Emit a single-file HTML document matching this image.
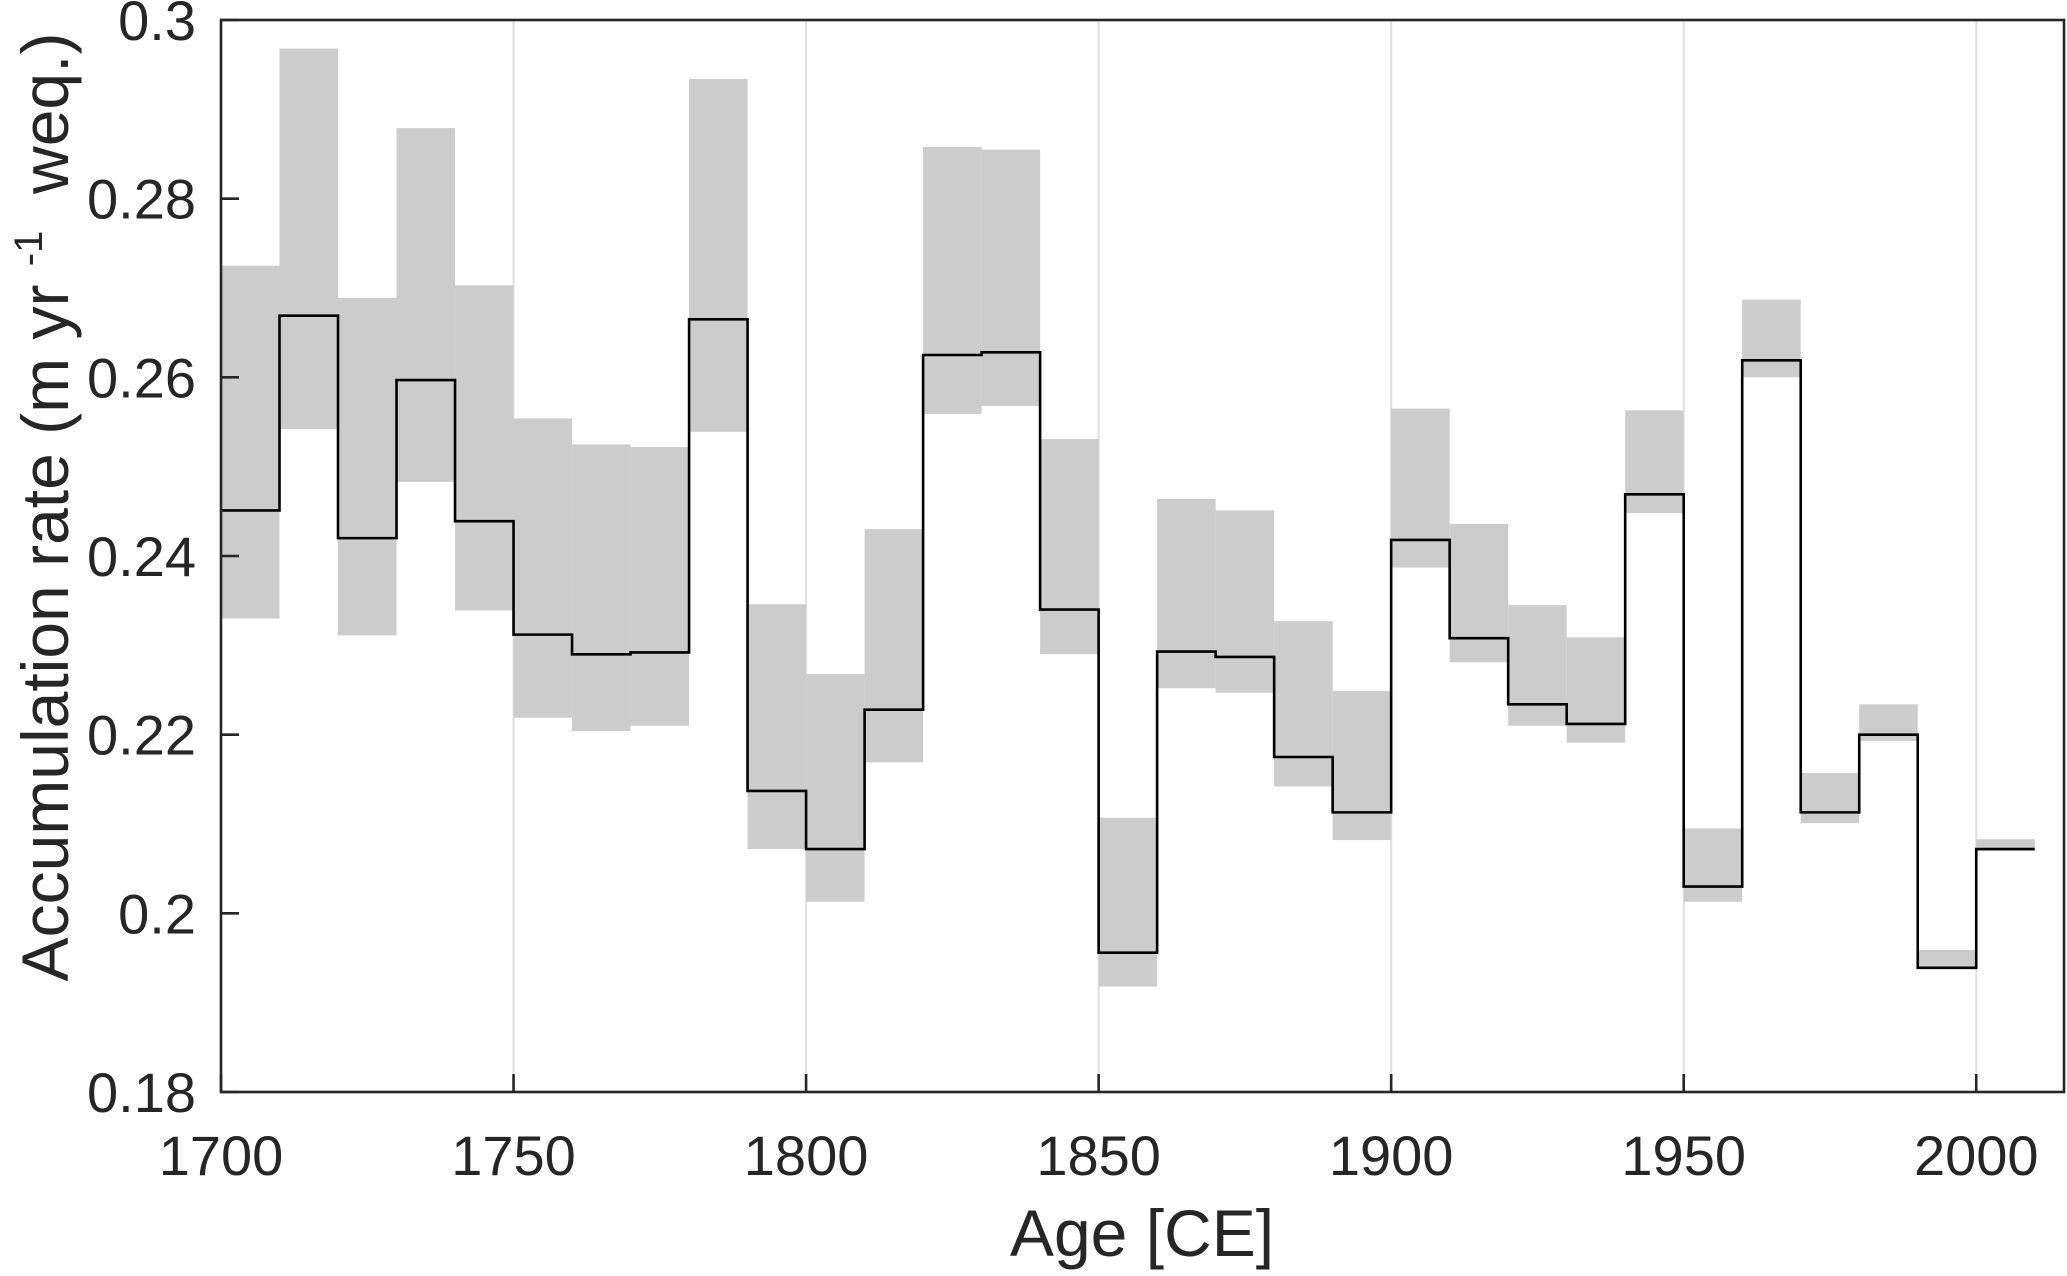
<!DOCTYPE html>
<html><head><meta charset="utf-8"><style>
html,body{margin:0;padding:0;background:#fff;}
svg{display:block;font-family:"Liberation Sans",Arial,sans-serif;}
</style></head><body>
<svg id="chart" width="2067" height="1276" viewBox="0 0 2067 1276" xmlns="http://www.w3.org/2000/svg">
<g id="grid"></g>
<g id="bands"></g>
<path id="line" fill="none" stroke="#000" stroke-width="2.6"></path>
<g id="axes"></g>
<text x="1142" y="1256" font-size="66" text-anchor="middle" fill="#262626">Age [CE]</text>
<text transform="translate(68,507) rotate(-90)" font-size="66" text-anchor="middle" fill="#262626" xml:space="preserve">Accumulation rate (m yr <tspan font-size="40" dy="-26">-1</tspan><tspan dy="26">  weq.)</tspan></text>
</svg>
<script>
const decades=[1700,1710,1720,1730,1740,1750,1760,1770,1780,1790,1800,1810,1820,1830,1840,1850,1860,1870,1880,1890,1900,1910,1920,1930,1940,1950,1960,1970,1980,1990,2000];
const rate=[.2451,.2669,.2420,.2597,.2439,.2312,.2290,.2292,.2665,.2137,.2072,.2228,.2625,.2628,.2340,.1956,.2293,.2287,.2175,.2113,.2418,.2308,.2234,.2212,.2469,.2030,.2619,.2113,.2200,.1939,.2072];
const upper=[.2725,.2968,.2689,.2879,.2703,.2554,.2525,.2522,.2934,.2346,.2268,.2430,.2858,.2855,.2531,.2107,.2464,.2451,.2327,.2249,.2565,.2436,.2345,.2309,.2563,.2095,.2687,.2157,.2234,.1959,.2083];
const lower=[.2330,.2542,.2311,.2483,.2339,.2219,.2204,.2210,.2539,.2072,.2013,.2169,.2559,.2568,.2290,.1918,.2252,.2247,.2142,.2082,.2387,.2281,.2210,.2191,.2448,.2013,.2600,.2101,.2193,.1939,.2070];
const xTicks=[1700,1750,1800,1850,1900,1950,2000];
const yTicks=[0.18,0.2,0.22,0.24,0.26,0.28,0.3];
const yTickLabels=["0.18","0.2","0.22","0.24","0.26","0.28","0.3"];
const binWidth=10;
const L=221,R=2064,T=20,B=1092,X0=1700,X1=2015,Y0=0.18,Y1=0.3;
const sx=v=>L+(v-X0)/(X1-X0)*(R-L);
const sy=v=>B-(v-Y0)/(Y1-Y0)*(B-T);
const NS="http://www.w3.org/2000/svg";
function mk(tag,parent,attrs){const e=document.createElementNS(NS,tag);for(const k in attrs)e.setAttribute(k,attrs[k]);parent.appendChild(e);return e;}
const grid=document.getElementById('grid'),bands=document.getElementById('bands'),axes=document.getElementById('axes');
xTicks.forEach(t=>{if(t===X0)return;const g=mk('line',grid,{x1:sx(t),x2:sx(t),y1:T,y2:B,stroke:'#e0e0e0','stroke-width':2});

});
decades.forEach((d,i)=>{const r=mk('rect',bands,{x:sx(d),width:sx(d+binWidth)-sx(d),y:sy(upper[i]),height:Math.max(1,sy(lower[i])-sy(upper[i])),fill:'#cccccc'});

});
let p='';decades.forEach((d,i)=>{const y=sy(rate[i]);p+=(i?'L':'M')+sx(d)+','+y+'L'+sx(d+binWidth)+','+y;});
document.getElementById('line').setAttribute('d',p);
const box=mk('rect',axes,{x:L,y:T,width:R-L,height:B-T,fill:'none',stroke:'#262626','stroke-width':2.6});


xTicks.forEach(t=>{const x=sx(t);mk('line',axes,{x1:x,x2:x,y1:B,y2:B-18,stroke:'#262626','stroke-width':2.6});
const tx=mk('text',axes,{x:x,y:1175,'font-size':56,'text-anchor':'middle',fill:'#262626'});tx.textContent=t;

});
yTicks.forEach((t,i)=>{const y=sy(t);mk('line',axes,{x1:L,x2:L+18,y1:y,y2:y,stroke:'#262626','stroke-width':2.6});
const tx=mk('text',axes,{x:196,y:y+20,'font-size':56,'text-anchor':'end',fill:'#262626'});tx.textContent=yTickLabels[i];

});
</script>
</body></html>
